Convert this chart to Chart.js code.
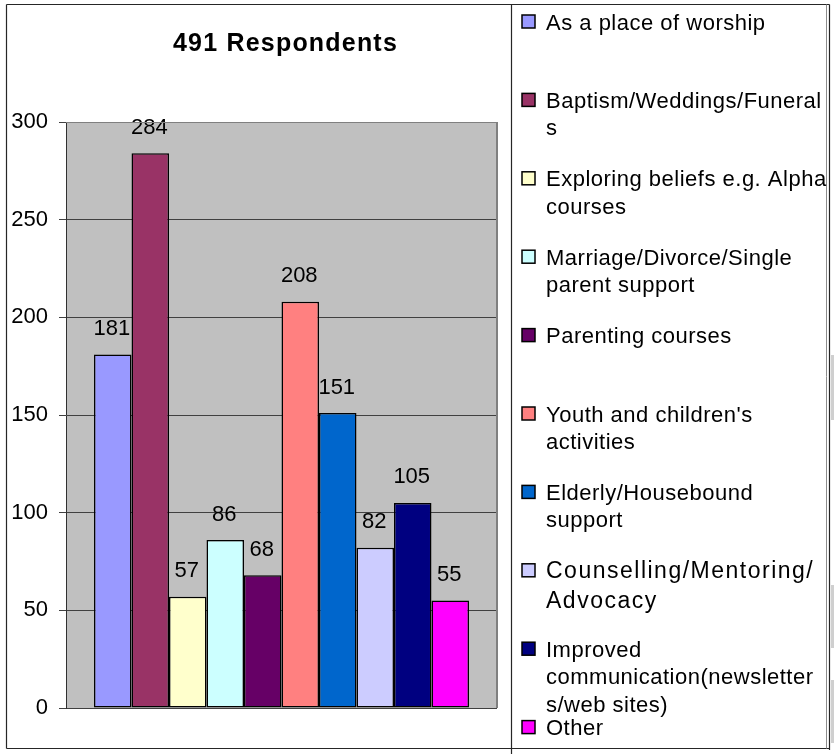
<!DOCTYPE html>
<html>
<head>
<meta charset="utf-8">
<script src="https://cdn.jsdelivr.net/npm/chart.js@4"></script>
<style>
  html, body { margin: 0; padding: 0; background: #fff; }
  #wrap { width: 834px; height: 754px; position: relative; }
</style>
</head>
<body>
<div id="wrap"><canvas id="c" width="834" height="754"></canvas></div>
<script>
// Survey: what the church building is used for
const chartTitle = '491 Respondents';
const seriesNames = [
  'As a place of worship',
  'Baptism/Weddings/Funerals',
  'Exploring beliefs e.g. Alpha courses',
  'Marriage/Divorce/Single parent support',
  'Parenting courses',
  "Youth and children's activities",
  'Elderly/Housebound support',
  'Counselling/Mentoring/Advocacy',
  'Improved communication(newsletters/web sites)',
  'Other'
];
// wrapped legend text, one entry per series
const legendLines = [
  ['As a place of worship'],
  ['Baptism/Weddings/Funeral', 's'],
  ['Exploring beliefs e.g. Alpha', 'courses'],
  ['Marriage/Divorce/Single', 'parent support'],
  ['Parenting courses'],
  ["Youth and children's", 'activities'],
  ['Elderly/Housebound', 'support'],
  ['Counselling/Mentoring/', 'Advocacy'],
  ['Improved', 'communication(newsletter', 's/web sites)'],
  ['Other']
];
const respondents = [181, 284, 57, 86, 68, 208, 151, 82, 105, 55];
const seriesColors = ['#9999FF', '#993366', '#FFFFCC', '#CCFFFF', '#660066',
                      '#FF8080', '#0066CC', '#CCCCFF', '#000080', '#FF00FF'];
const yTicks = [0, 50, 100, 150, 200, 250, 300];

const FONT = '"Liberation Sans", Arial, sans-serif';

const datasets = respondents.map((v, i) => ({
  label: seriesNames[i],
  data: [v],
  backgroundColor: seriesColors[i],
  borderColor: '#000000',
  borderWidth: 1.5,
  borderSkipped: false,
  categoryPercentage: 0.87,
  barPercentage: 1.0
}));

// page background, plot background and frame
const framePlugin = {
  id: 'frame',
  beforeDraw(chart) {
    const { ctx, chartArea: a } = chart;
    ctx.save();
    ctx.fillStyle = '#ffffff';
    ctx.fillRect(0, 0, chart.width, chart.height);
    ctx.fillStyle = '#C0C0C0';
    ctx.fillRect(a.left, a.top, a.right - a.left, a.bottom - a.top);
    ctx.restore();
  },
  afterDraw(chart) {
    const { ctx, chartArea: a } = chart;
    ctx.save();
    // plot border (top/right)
    ctx.strokeStyle = '#808080';
    ctx.lineWidth = 1;
    ctx.beginPath();
    ctx.moveTo(a.left, a.top + 0.5);
    ctx.lineTo(a.right, a.top + 0.5);
    ctx.stroke();
    ctx.lineWidth = 2;
    ctx.beginPath();
    ctx.moveTo(a.right, a.top);
    ctx.lineTo(a.right, a.bottom);
    ctx.stroke();
    // outer frames: chart box and legend box
    ctx.strokeStyle = '#262626';
    ctx.lineWidth = 1.2;
    ctx.beginPath();
    ctx.moveTo(6.5, 4.5); ctx.lineTo(829.5, 4.5);
    ctx.moveTo(6.5, 4.5); ctx.lineTo(6.5, 748.5);
    ctx.moveTo(6.5, 748.5); ctx.lineTo(829.5, 748.5);
    ctx.moveTo(511.5, 4.5); ctx.lineTo(511.5, 754);
    ctx.moveTo(829.5, 4.5); ctx.lineTo(829.5, 750);
    ctx.stroke();
    ctx.strokeStyle = '#8c8c8c';
    ctx.lineWidth = 1;
    ctx.beginPath();
    ctx.moveTo(826.5, 4.5); ctx.lineTo(826.5, 748.5);
    ctx.stroke();
    // faint shapes beyond the right edge of the frame
    ctx.fillStyle = '#cfcfcf';
    [[355, 420], [585, 648], [680, 743]].forEach(([y0, y1]) => {
      ctx.fillRect(831, y0, 3, y1 - y0);
    });

    // title
    ctx.fillStyle = '#000';
    ctx.font = 'bold 25px ' + FONT;
    if ('letterSpacing' in ctx) ctx.letterSpacing = '1.2px';
    ctx.textAlign = 'center';
    ctx.textBaseline = 'alphabetic';
    ctx.fillText(chartTitle, (a.left + a.right) / 2 + 4, 51);
    if ('letterSpacing' in ctx) ctx.letterSpacing = '0px';
    ctx.restore();
  }
};

// value labels above each bar
const valueLabels = {
  id: 'valueLabels',
  afterDatasetsDraw(chart) {
    const { ctx } = chart;
    ctx.save();
    ctx.fillStyle = '#000';
    ctx.font = '22px ' + FONT;
    ctx.textAlign = 'center';
    ctx.textBaseline = 'alphabetic';
    chart.data.datasets.forEach((ds, i) => {
      const bar = chart.getDatasetMeta(i).data[0];
      ctx.fillText(String(ds.data[0]), bar.x - 1, bar.y - 19.5);
    });
    ctx.restore();
  }
};

// legend panel on the right
const sideLegend = {
  id: 'sideLegend',
  afterDraw(chart) {
    const { ctx } = chart;
    ctx.save();
    ctx.textAlign = 'left';
    ctx.textBaseline = 'alphabetic';
    chart.data.datasets.forEach((ds, i) => {
      const cy = 21.5 + i * 78.4;
      ctx.fillStyle = ds.backgroundColor;
      ctx.fillRect(522, cy - 6.5, 13, 13);
      ctx.strokeStyle = '#000';
      ctx.lineWidth = 1.5;
      ctx.strokeRect(522, cy - 6.5, 13, 13);
      ctx.fillStyle = '#000';
      const big = i === 7;
      ctx.font = (big ? '23px ' : '22px ') + FONT;
      if ('letterSpacing' in ctx) ctx.letterSpacing = big ? '1.5px' : '0.5px';
      const step = big ? 30 : 27.5;
      legendLines[i].forEach((line, k) => {
        ctx.fillText(line, 546, cy + 8 + k * step);
      });
    });
    if ('letterSpacing' in ctx) ctx.letterSpacing = '0px';
    ctx.restore();
  }
};

new Chart(document.getElementById('c'), {
  type: 'bar',
  data: { labels: [''], datasets },
  options: {
    responsive: false,
    animation: false,
    events: [],
    layout: { padding: { left: 6, right: 337, top: 122, bottom: 46 } },
    plugins: {
      legend: { display: false },
      title: { display: false },
      tooltip: { enabled: false }
    },
    scales: {
      x: { display: false },
      y: {
        min: 0,
        max: 300,
        afterFit(scale) { scale.width = 60; },
        afterBuildTicks(scale) { scale.ticks = yTicks.map(v => ({ value: v })); },
        border: { display: true, color: '#303030', width: 1 },
        grid: {
          color: ctx => (ctx.tick && ctx.tick.value === 300) ? '#808080' : '#404040',
          lineWidth: 1,
          drawTicks: true,
          tickLength: 7,
          tickColor: '#404040'
        },
        ticks: {
          color: '#000',
          padding: 11,
          font: { family: FONT, size: 22 }
        }
      }
    }
  },
  plugins: [framePlugin, valueLabels, sideLegend]
});
</script>
</body>
</html>
